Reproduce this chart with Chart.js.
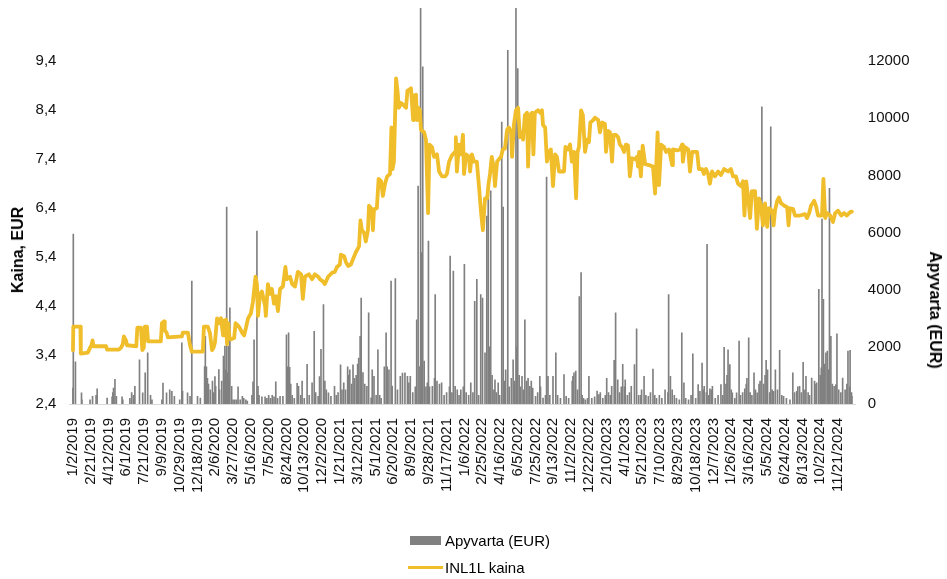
<!DOCTYPE html>
<html>
<head>
<meta charset="utf-8">
<script src="https://cdn.jsdelivr.net/npm/chart.js@4.4.0/dist/chart.umd.min.js"></script>
<style>
html,body{margin:0;padding:0;background:#fff;}
#wrap{position:relative;width:947px;height:579px;font-family:"Liberation Sans",Arial,sans-serif;color:#000;}
canvas{position:absolute;left:0;top:0;}
.axtitle{position:absolute;font-weight:bold;font-size:16px;white-space:nowrap;line-height:1;}
#tl{left:18px;top:250px;transform:translate(-50%,-50%) rotate(-90deg);}
#tr{left:935px;top:310px;transform:translate(-50%,-50%) rotate(90deg);}
.leg{position:absolute;font-size:15px;line-height:1;white-space:nowrap;}
.sw{position:absolute;}
</style>
</head>
<body>
<div id="wrap">
<canvas id="c" width="947" height="579"></canvas>
<div class="axtitle" id="tl">Kaina, EUR</div>
<div class="axtitle" id="tr">Apyvarta (EUR)</div>
<div class="sw" style="left:410px;top:536px;width:31px;height:9px;background:#808080;"></div>
<div class="leg" style="left:445px;top:533px;">Apyvarta (EUR)</div>
<div class="sw" style="left:408px;top:566px;width:35px;height:3px;background:#F0BD2B;"></div>
<div class="leg" style="left:445px;top:560px;">INL1L kaina</div>
</div>
<script>
// ---- data ----
const startDate = "1/2/2019";
const dateTickLabels = ["1/2/2019","2/21/2019","4/12/2019","6/1/2019","7/21/2019","9/9/2019","10/29/2019","12/18/2019",
"2/6/2020","3/27/2020","5/16/2020","7/5/2020","8/24/2020","10/13/2020","12/2/2020","1/21/2021","3/12/2021","5/1/2021",
"6/20/2021","8/9/2021","9/28/2021","11/17/2021","1/6/2022","2/25/2022","4/16/2022","6/5/2022","7/25/2022","9/13/2022",
"11/2/2022","12/22/2022","2/10/2023","4/1/2023","5/21/2023","7/10/2023","8/29/2023","10/18/2023","12/7/2023","1/26/2024",
"3/16/2024","5/5/2024","6/24/2024","8/13/2024","10/2/2024","11/21/2024"];
const priceTicks = [2.4,3.4,4.4,5.4,6.4,7.4,8.4,9.4];
const volumeTicks = [0,2000,4000,6000,8000,10000,12000];

// days since 1/2/2019
const priceDays = [0,1,21,22,42,48,52,55,58,93,96,129,135,140,143,149,152,178,181,191,195,199,202,208,211,247,250,256,258,263,267,306,309,323,329,334,365,368,379,385,391,395,399,405,410,416,422,424,430,433,436,440,444,453,457,464,469,476,481,486,492,500,506,513,517,520,526,531,540,542,548,554,559,565,571,576,582,590,597,601,610,616,624,632,641,646,652,663,672,680,689,694,703,708,717,728,736,742,750,753,762,767,773,781,787,795,804,808,812,818,823,829,832,840,843,846,854,859,866,871,877,883,891,895,898,902,908,912,916,922,930,936,940,950,956,958,964,967,971,975,978,987,992,998,1002,1009,1015,1023,1029,1037,1046,1051,1057,1065,1074,1076,1079,1085,1090,1096,1099,1105,1113,1116,1121,1127,1135,1141,1147,1152,1158,1164,1168,1172,1177,1183,1186,1192,1197,1203,1208,1214,1220,1225,1231,1234,1239,1245,1251,1256,1262,1265,1270,1276,1279,1284,1290,1294,1298,1307,1313,1318,1321,1327,1332,1338,1343,1349,1355,1360,1366,1380,1384,1391,1397,1402,1408,1414,1418,1422,1428,1433,1439,1445,1450,1454,1462,1467,1476,1481,1487,1495,1498,1504,1509,1515,1519,1526,1532,1537,1543,1549,1554,1560,1565,1571,1580,1585,1588,1591,1596,1601,1608,1619,1630,1636,1643,1647,1653,1661,1667,1675,1684,1686,1698,1706,1712,1714,1720,1729,1734,1740,1754,1759,1768,1773,1779,1785,1790,1796,1804,1813,1821,1830,1841,1849,1855,1863,1869,1877,1883,1887,1892,1897,1903,1908,1917,1922,1928,1934,1939,1945,1951,1956,1965,1969,1973,1979,1984,1990,1999,2007,2011,2015,2024,2029,2043,2057,2063,2069,2074,2083,2088,2094,2105,2109,2114,2119,2128,2136,2142,2150,2159,2167,2175,2184,2189];
const prices = [3.50,3.98,3.98,3.43,3.45,3.55,3.60,3.70,3.58,3.58,3.51,3.51,3.55,3.62,3.78,3.70,3.60,3.58,3.96,3.96,3.50,3.55,3.98,3.98,3.68,3.68,4.05,4.09,3.90,3.86,3.76,3.78,3.86,3.86,3.60,3.47,3.47,3.98,3.98,3.85,3.50,3.55,3.65,4.15,4.05,4.15,3.80,4.10,4.12,3.62,4.05,3.75,3.72,3.75,4.05,4.00,3.95,3.85,3.80,3.95,4.15,4.25,4.50,5.00,4.85,4.20,4.65,4.70,4.40,4.20,4.85,4.65,4.75,4.45,4.60,4.30,4.75,4.80,5.20,4.95,5.00,4.85,4.80,5.10,5.05,4.55,5.00,5.05,4.95,5.05,5.00,4.95,4.90,4.85,5.00,5.08,5.10,5.20,5.25,5.45,5.42,5.30,5.22,5.25,5.36,5.50,5.62,6.15,5.95,5.90,5.72,5.95,6.45,6.38,5.95,6.38,6.40,7.00,6.95,6.65,6.90,7.05,7.10,8.05,7.20,7.35,9.05,8.80,8.45,8.55,8.50,8.45,8.80,8.85,8.20,8.70,8.72,8.20,8.45,8.40,8.00,7.95,7.80,6.30,7.70,7.65,7.45,7.50,7.15,7.05,7.05,7.10,7.35,7.48,7.55,7.85,7.15,7.70,7.50,7.90,7.10,7.50,7.45,7.15,7.50,7.35,7.35,6.85,6.30,5.95,6.60,6.60,6.90,7.10,7.45,7.20,6.85,7.35,7.40,7.45,7.60,7.62,8.00,8.05,7.95,7.45,8.10,8.40,8.45,7.85,7.95,7.80,8.30,8.35,7.25,8.30,8.35,7.50,8.35,8.40,8.35,8.40,8.10,8.05,7.35,7.55,7.60,6.85,7.50,7.45,7.15,7.15,7.65,7.60,7.70,7.35,7.55,6.60,7.55,7.65,8.40,8.30,7.55,7.80,7.75,8.15,8.20,8.25,8.20,7.95,8.15,8.12,7.55,7.98,7.95,7.35,7.90,7.90,7.85,7.70,7.65,7.55,7.70,7.68,7.05,7.42,7.40,7.45,7.25,7.55,7.05,7.68,7.30,7.28,7.25,6.70,7.95,6.87,7.70,7.65,7.55,7.60,7.28,7.60,7.58,7.60,7.70,7.35,7.65,7.60,7.15,7.55,7.55,7.20,7.20,7.10,7.20,7.10,6.90,7.15,7.05,7.15,7.08,7.20,7.15,7.20,7.05,7.05,6.90,6.85,6.95,6.25,6.95,6.65,6.20,6.75,6.75,5.98,6.60,6.45,6.05,6.50,6.02,6.40,6.35,6.05,6.35,6.55,6.62,6.50,6.45,6.42,6.05,6.40,6.38,6.25,6.25,6.28,6.20,6.30,6.45,6.55,6.45,6.25,6.25,7.00,6.20,6.30,6.25,6.12,6.30,6.35,6.25,6.30,6.25,6.32,6.33];

const volumeDays = [0,1,7,24,25,48,55,65,68,96,110,112,114,118,122,138,140,160,165,170,174,187,196,203,210,218,222,250,253,263,272,278,285,300,306,308,322,329,334,350,358,370,372,375,378,381,386,392,395,399,401,410,412,418,423,425,427,429,432,435,437,439,441,446,450,455,460,464,470,476,480,486,490,503,506,509,517,520,523,531,540,545,550,555,560,565,570,575,582,590,600,603,606,609,612,616,622,630,634,640,644,650,658,664,672,678,682,689,693,697,704,708,712,718,725,735,740,745,752,756,761,766,772,775,778,783,787,791,796,800,803,807,810,815,820,826,831,838,841,846,852,857,862,866,875,880,883,888,894,897,906,912,920,926,933,940,944,948,955,962,966,970,975,977,979,981,983,987,992,996,999,1002,1010,1016,1018,1023,1030,1036,1043,1050,1058,1060,1065,1069,1074,1080,1085,1090,1097,1100,1105,1112,1118,1124,1129,1135,1140,1146,1151,1158,1163,1167,1170,1174,1178,1183,1186,1190,1195,1199,1205,1209,1213,1216,1222,1226,1232,1237,1241,1245,1247,1250,1254,1257,1262,1266,1270,1275,1279,1284,1288,1292,1300,1306,1312,1314,1321,1328,1331,1335,1340,1349,1357,1362,1370,1380,1386,1393,1403,1405,1408,1413,1418,1423,1428,1431,1435,1440,1446,1450,1458,1466,1473,1478,1482,1489,1496,1500,1505,1510,1514,1521,1525,1531,1536,1541,1545,1550,1552,1558,1564,1569,1578,1584,1590,1596,1598,1605,1610,1617,1623,1630,1635,1640,1648,1655,1664,1672,1674,1679,1684,1690,1696,1704,1711,1717,1722,1730,1737,1742,1750,1757,1762,1768,1772,1774,1780,1782,1787,1790,1794,1797,1805,1813,1821,1826,1830,1835,1838,1841,1846,1850,1853,1860,1865,1872,1876,1882,1888,1892,1894,1899,1903,1908,1914,1918,1923,1928,1931,1936,1941,1945,1948,1952,1958,1961,1965,1969,1974,1980,1986,1992,1997,2005,2015,2023,2028,2034,2037,2042,2047,2052,2057,2060,2066,2070,2076,2084,2088,2090,2096,2100,2103,2105,2108,2109,2112,2116,2120,2124,2126,2130,2134,2139,2144,2147,2152,2158,2163,2170,2175,2178,2183,2184,2188,2189];
const volumes = [560,5950,1480,390,150,150,270,300,530,210,250,400,560,860,270,250,150,200,400,300,620,1550,390,1090,1790,300,150,150,730,390,500,440,270,150,2140,450,390,270,4300,270,210,1310,2370,1300,900,700,500,800,400,960,620,1207,500,800,1680,900,2030,1200,6890,1100,2030,800,3370,620,150,150,150,600,150,270,200,150,100,300,780,2250,6050,620,300,250,250,200,300,200,300,250,780,200,270,270,2420,1300,2490,1280,700,300,200,720,620,300,800,200,1390,300,740,2540,400,270,960,1910,3480,800,500,390,270,620,300,400,1370,500,740,500,1300,1000,1200,700,1370,900,1000,1400,1610,2370,3710,1100,700,620,3190,220,1200,970,300,1900,300,200,1300,2490,1300,1200,4300,630,4390,500,970,1080,1090,970,740,970,400,600,2950,7630,1310,14500,5300,4000,11800,1500,600,740,5700,600,620,900,3830,800,700,740,300,400,600,5180,400,4650,620,500,300,500,600,4890,400,300,740,400,3590,4360,300,3830,3710,1790,6580,7280,2000,7460,1000,500,850,400,740,300,9870,6890,800,1200,12380,600,900,1550,800,14500,2000,11740,1000,600,970,500,2950,800,900,620,800,560,270,400,970,600,210,300,7940,970,300,970,1790,300,200,1030,270,200,800,970,1090,1150,500,3760,4600,300,200,150,200,970,200,250,450,330,400,200,300,900,400,300,620,1530,3190,850,400,600,1390,600,850,300,400,620,1380,2630,300,300,500,970,300,270,400,1220,300,200,300,200,500,400,3830,970,500,300,200,150,2490,740,200,150,300,1760,200,680,440,1430,500,620,400,5590,300,530,500,620,200,300,680,300,1980,700,1000,1900,1380,500,390,200,390,2200,300,400,530,700,900,2320,400,300,1090,500,390,700,800,10400,700,1000,1530,1200,400,9700,500,440,1200,500,1880,300,270,200,150,1090,400,440,600,620,400,1460,500,970,400,300,910,800,700,740,4010,1000,1270,6470,1200,3660,1400,1790,1850,1200,7550,2370,700,620,680,2460,500,400,910,500,700,1850,600,1880,400,270];

// ---- helpers ----
function dayIndex(s){
  const p = s.split('/').map(Number);
  const q = startDate.split('/').map(Number);
  return Math.round((Date.UTC(p[2],p[0]-1,p[1]) - Date.UTC(q[2],q[0]-1,q[1]))/86400000);
}
const tickDays = dateTickLabels.map(dayIndex);
function noPad(s){ s.paddingTop = 0; s.paddingBottom = 0; s.paddingLeft = 0; s.paddingRight = 0; }

Chart.defaults.font.family = '"Liberation Sans", Arial, sans-serif';
Chart.defaults.font.size = 15;
Chart.defaults.color = '#111';

new Chart(document.getElementById('c'), {
  type: 'bar',
  data: {
    datasets: [
      {
        type: 'line',
        label: 'INL1L kaina',
        data: priceDays.map((d, i) => ({x: d, y: prices[i]})),
        yAxisID: 'yPrice',
        borderColor: '#F0BD2B',
        borderWidth: 3.8,
        pointRadius: 0,
        tension: 0,
        borderJoinStyle: 'round',
        borderCapStyle: 'round',
        order: 0
      },
      {
        type: 'bar',
        label: 'Apyvarta (EUR)',
        data: volumeDays.map((d, i) => ({x: d, y: volumes[i]})),
        yAxisID: 'yVol',
        backgroundColor: '#808080',
        barThickness: 1,
        order: 1
      }
    ]
  },
  options: {
    responsive: false,
    animation: false,
    layout: {padding: {top: 8, bottom: 75, left: 0, right: 0}},
    plugins: {legend: {display: false}, tooltip: {enabled: false}},
    scales: {
      x: {
        type: 'linear',
        min: -10,
        max: 2200,
        offset: false,
        grid: {display: false, drawTicks: false},
        border: {display: true, color: '#d9d9d9', width: 1},
        afterBuildTicks: s => { s.ticks = tickDays.map(v => ({value: v})); },
        afterFit: s => { s.height = 100; noPad(s); },
        ticks: {
          autoSkip: false,
          maxRotation: 90,
          minRotation: 90,
          padding: 14,
          callback: (v, i) => dateTickLabels[i]
        }
      },
      yPrice: {
        type: 'linear',
        position: 'left',
        min: 2.4,
        max: 10.49,
        grid: {display: false, drawTicks: false},
        border: {display: false},
        afterBuildTicks: s => { s.ticks = priceTicks.map(v => ({value: v})); },
        afterFit: s => { s.width = 69.4; noPad(s); },
        ticks: {padding: 13, callback: v => v.toFixed(1).replace('.', ',')}
      },
      yVol: {
        type: 'linear',
        position: 'right',
        min: 0,
        max: 13860,
        grid: {display: false, drawTicks: false},
        border: {display: false},
        afterBuildTicks: s => { s.ticks = volumeTicks.map(v => ({value: v})); },
        afterFit: s => { s.width = 91.2; noPad(s); },
        ticks: {padding: 12, callback: v => String(v)}
      }
    }
  }
});
</script>
</body>
</html>
